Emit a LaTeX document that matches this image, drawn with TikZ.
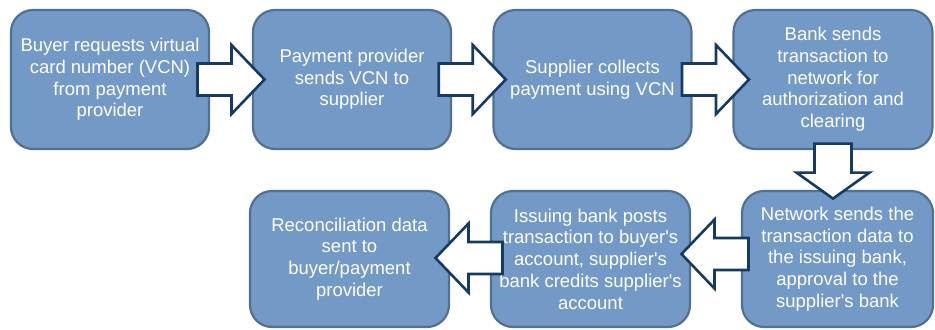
\documentclass[tikz,border=0pt]{standalone}
\usepackage{fontspec}
\setmainfont{Liberation Sans}
\usetikzlibrary{calc}
\definecolor{boxfill}{HTML}{7399C6}
\definecolor{boxline}{HTML}{52708F}
\definecolor{arrowblue}{HTML}{163A60}
\tikzset{
  stepbox/.style={rectangle, rounded corners=22bp, draw=boxline, line width=2.2bp,
    fill=boxfill, text=white, align=center, inner sep=0pt,
    font=\fontsize{18.5bp}{21.7bp}\selectfont},
  blockarrow/.style={draw=arrowblue, line width=2.6bp, fill=white, line join=miter},
  pics/harrow/.style={code={
    \path[blockarrow] (-33.5,-16) -- (0.5,-16) -- (0.5,-34.5) -- (33.5,0)
      -- (0.5,34.5) -- (0.5,16) -- (-33.5,16) -- cycle;}},
  pics/varrow/.style={code={
    \path[blockarrow] (-27.5,-18.5) -- (1.5,-18.5) -- (1.5,-36.5) -- (27.5,0)
      -- (1.5,36.5) -- (1.5,18.5) -- (-27.5,18.5) -- cycle;}}
}
\begin{document}
\begin{tikzpicture}[x=1bp,y=-1bp]
\useasboundingbox (0,0) rectangle (935,329);
% top row
\node[stepbox, minimum width=198bp, minimum height=139bp] (b1) at (110,79.5)
  {Buyer requests virtual\\card number (VCN)\\from payment\\provider};
\node[stepbox, minimum width=198bp, minimum height=139bp] (b2) at (352,79.5)
  {Payment provider\\sends VCN to\\supplier};
\node[stepbox, minimum width=198bp, minimum height=139bp] (b3) at (592.5,79.5)
  {Supplier collects\\payment using VCN};
\node[stepbox, minimum width=199bp, minimum height=139bp] (b4) at (833,79.5)
  {Bank sends\\transaction to\\network for\\authorization and\\clearing};
% bottom row
\node[stepbox, minimum width=199bp, minimum height=136bp] (b7) at (349.5,259)
  {Reconciliation data\\sent to\\buyer/payment\\provider};
\node[stepbox, minimum width=199bp, minimum height=136bp] (b6) at (590.5,259)
  {Issuing bank posts\\transaction to buyer\textquotesingle s\\account, supplier\textquotesingle s\\bank credits supplier\textquotesingle s\\account};
\node[stepbox, minimum width=191bp, minimum height=136bp] (b5) at (837.5,259)
  {Network sends the\\transaction data to\\the issuing bank,\\approval to the\\supplier\textquotesingle s bank};
% block arrows
\pic at ($(b1.east)!0.5!(b2.west)$) {harrow};
\pic at ($(b2.east)!0.5!(b3.west)$) {harrow};
\pic at ($(b3.east)!0.5!(b4.west)+(3,0)$) {harrow};
\pic[rotate=-90] at ($(b4.south)+(0,21)$) {varrow};
\pic[rotate=180] at ($(b6.east)!0.5!(b5.west)+(-1,-5)$) {harrow};
\pic[rotate=180] at ($(b7.east)!0.5!(b6.west)+(-1,-1)$) {harrow};
\end{tikzpicture}
\end{document}
